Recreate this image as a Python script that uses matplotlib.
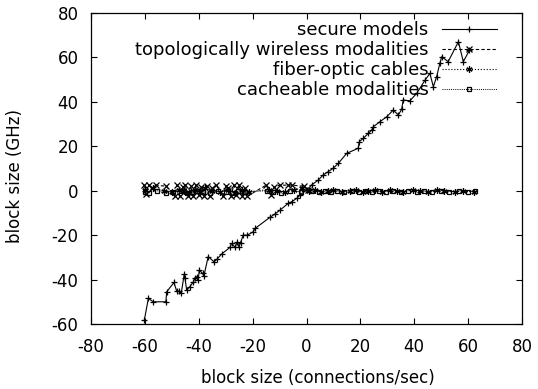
import matplotlib
matplotlib.use("Agg")
import matplotlib.pyplot as plt

plt.rcParams['font.family'] = ['DejaVu Sans']
plt.rcParams['axes.unicode_minus'] = False

secure_x = [-60.2, -58.7, -56.9, -52.2, -51.9, -49.2, -48.2, -47.3, -46.5, -45.4, -45.1, -44.5,
            -43.3, -42.0, -41.4, -40.8, -40.2, -39.8, -38.6, -38.1, -36.5, -34.3, -33.3, -31.5,
            -28.4, -27.8, -26.5, -25.7, -25.1, -24.5, -23.5, -22.0, -19.8, -19.1, -13.6, -11.7,
            -9.8, -6.8, -5.5, -3.6, -2.4, 0.1, 1.9, 4.4, 6.2, 8.1, 9.9, 11.8, 14.9, 19.2, 19.6,
            21.1, 22.9, 24.2, 24.8, 27.3, 29.8, 32.2, 34.1, 35.3, 35.9, 38.4, 40.9, 44.0, 45.8,
            47.1, 48.3, 49.5, 50.2, 52.6, 56.4, 58.2, 60.5]
secure_y = [-58.2, -48.5, -50.0, -50.0, -45.5, -41.3, -45.2, -45.2, -46.2, -37.6, -39.4, -44.7,
            -43.2, -41.0, -39.5, -38.7, -40.2, -35.7, -37.2, -38.4, -29.7, -32.0, -30.9, -28.5,
            -25.5, -23.7, -25.5, -23.0, -25.2, -23.4, -20.0, -20.0, -18.5, -17.0, -12.0, -10.5,
            -8.7, -5.7, -5.0, -3.4, -1.9, 0.3, 2.6, 4.8, 7.1, 8.6, 10.1, 12.3, 16.8, 19.1, 22.1,
            23.6, 25.8, 27.3, 28.8, 31.1, 33.3, 36.3, 34.1, 36.6, 40.8, 40.5, 43.8, 49.8, 52.8,
            46.8, 51.3, 57.3, 60.3, 58.1, 67.1, 58.1, 63.2]

wireless_x = [-60.5, -59.5, -58.5, -57.5, -56.0, -52.0, -49.0, -48.0, -47.0, -46.0, -45.0, -44.0,
              -43.0, -42.0, -41.0, -40.0, -39.0, -38.0, -37.0, -36.0, -35.0, -33.5, -31.0, -30.0,
              -29.0, -28.0, -27.0, -26.0, -25.0, -24.0, -23.0, -22.0, -15.0, -13.0, -12.0, -10.0,
              -7.0, -5.5, -1.0, 0.5]
wireless_y = [2.5, -1.5, 2.5, 1.0, 2.5, 2.0, -2.5, 2.5, -2.5, 1.5, 2.5, -2.5, 2.0, -2.5, 2.5,
              -2.0, 1.5, -2.5, 2.0, -2.5, 1.0, 2.5, -2.5, 2.0, 1.0, -2.5, 2.5, -2.0, 2.5, -2.5,
              1.0, -2.5, 2.5, -2.0, 1.5, 2.5, 2.5, 2.5, 2.0, 0.5]

fiber_x = [-60.0, -57.0, -53.0, -50.0, -47.5, -45.5, -43.5, -41.5, -39.5, -37.5, -35.0, -32.0,
           -29.0, -26.5, -24.0, -21.5, -14.0, -11.0, -8.0, -4.5, -1.5, 1.0, 3.0, 5.5, 8.0, 10.0,
           13.0, 16.0, 18.5, 21.0, 23.0, 25.5, 28.0, 31.0, 33.5, 36.0, 39.5, 42.0, 45.0, 48.5,
           51.0, 55.0, 58.0, 62.0]
fiber_y = [0.5, 1.0, 0.0, -0.5, 0.5, 0.0, -1.0, 0.5, -0.5, 1.0, 0.0, -0.5, 0.5, -1.0, 0.5, -0.5,
           0.5, 0.0, -0.5, 0.5, 1.0, 0.0, 0.5, -0.5, 0.0, 0.5, -0.5, 0.0, 0.5, -0.5, 0.0, 0.5,
           -0.5, 0.5, 0.0, -0.5, 0.5, 0.0, -0.5, 0.5, 0.0, -0.5, 0.0, -0.5]

cache_x = [-60.0, -58.5, -55.5, -52.0, -49.5, -46.5, -44.5, -42.5, -40.5, -38.5, -36.0, -33.0,
           -30.0, -27.5, -25.5, -23.0, -14.5, -12.5, -9.5, -6.0, -2.0, 2.0, 4.5, 7.0, 9.0, 11.5,
           14.0, 17.0, 19.5, 22.0, 24.5, 27.0, 29.5, 32.0, 35.0, 37.5, 41.0, 43.5, 46.5, 50.0,
           53.0, 56.5, 60.0, 62.5]
cache_y = [-0.5, -1.0, 0.0, -1.0, -0.5, 0.0, -1.0, -0.5, 0.0, -0.5, -1.0, 0.0, -0.5, -1.0, 0.0,
           -0.5, 0.0, -0.5, -1.0, 0.0, -0.5, 0.0, -0.5, 0.0, -0.5, 0.0, -0.5, 0.0, -0.5, 0.0,
           -0.5, 0.0, -0.5, 0.0, -0.5, 0.0, -0.5, 0.0, -0.5, 0.0, -0.5, 0.0, -0.5, 0.0]

labels = ["secure models", "topologically wireless modalities", "fiber-optic cables",
          "cacheable modalities"]
xticks = [-80, -60, -40, -20, 0, 20, 40, 60, 80]
yticks = [-60, -40, -20, 0, 20, 40, 60, 80]

W, H = 538, 389
fig = plt.figure(figsize=(W / 100, H / 100), dpi=100)
L, R, T, B = 91, 522, 13, 324
ax = fig.add_axes([L / W, 1 - B / H, (R - L) / W, (B - T) / H])

lw = 0.8
ax.plot(secure_x, secure_y, '-', color='black', lw=lw, marker='+', ms=5, mew=0.9,
        label=labels[0])
ax.plot(wireless_x, wireless_y, '--', color='black', lw=lw, dashes=(3, 2), marker='x', ms=5,
        mew=0.9, label=labels[1])
ax.plot(fiber_x, fiber_y, ':', color='black', lw=lw, marker=(6, 2, 0), ms=4.5, mew=0.9,
        label=labels[2])
ax.plot(cache_x, cache_y, color='black', lw=0.7, dashes=(1, 1.2), marker='s', ms=3.5,
        mfc='none', mew=0.9, label=labels[3])

ax.set_xlim(-80, 80)
ax.set_ylim(-60, 80)
ax.set_xticks(xticks)
ax.set_yticks(yticks)
ax.tick_params(direction='in', length=4, width=0.8, top=True, right=True, labelsize=12,
               colors='black')
ax.tick_params(axis='x', pad=10)
ax.tick_params(axis='y', pad=9)
for s in ax.spines.values():
    s.set_linewidth(0.9)

ax.set_xlabel("block size (connections/sec)", fontsize=12, va='center')
ax.set_ylabel("block size (GHz)", fontsize=12, va='center')
ax.xaxis.set_label_coords((318 - L) / (R - L), (B - 378) / (B - T))
ax.yaxis.set_label_coords((15 - L) / (R - L), (B - 176) / (B - T))

leg = ax.legend(loc='upper right', frameon=False, markerfirst=False, fontsize=13,
                handlelength=3.05, handletextpad=0.75, labelspacing=0.11,
                bbox_to_anchor=((497 - L) / (R - L), (B - 21) / (B - T)),
                borderaxespad=0.0, borderpad=0.0)
for t in leg.get_texts():
    t.set_ha('right')

fig.savefig("out.png", dpi=100)
